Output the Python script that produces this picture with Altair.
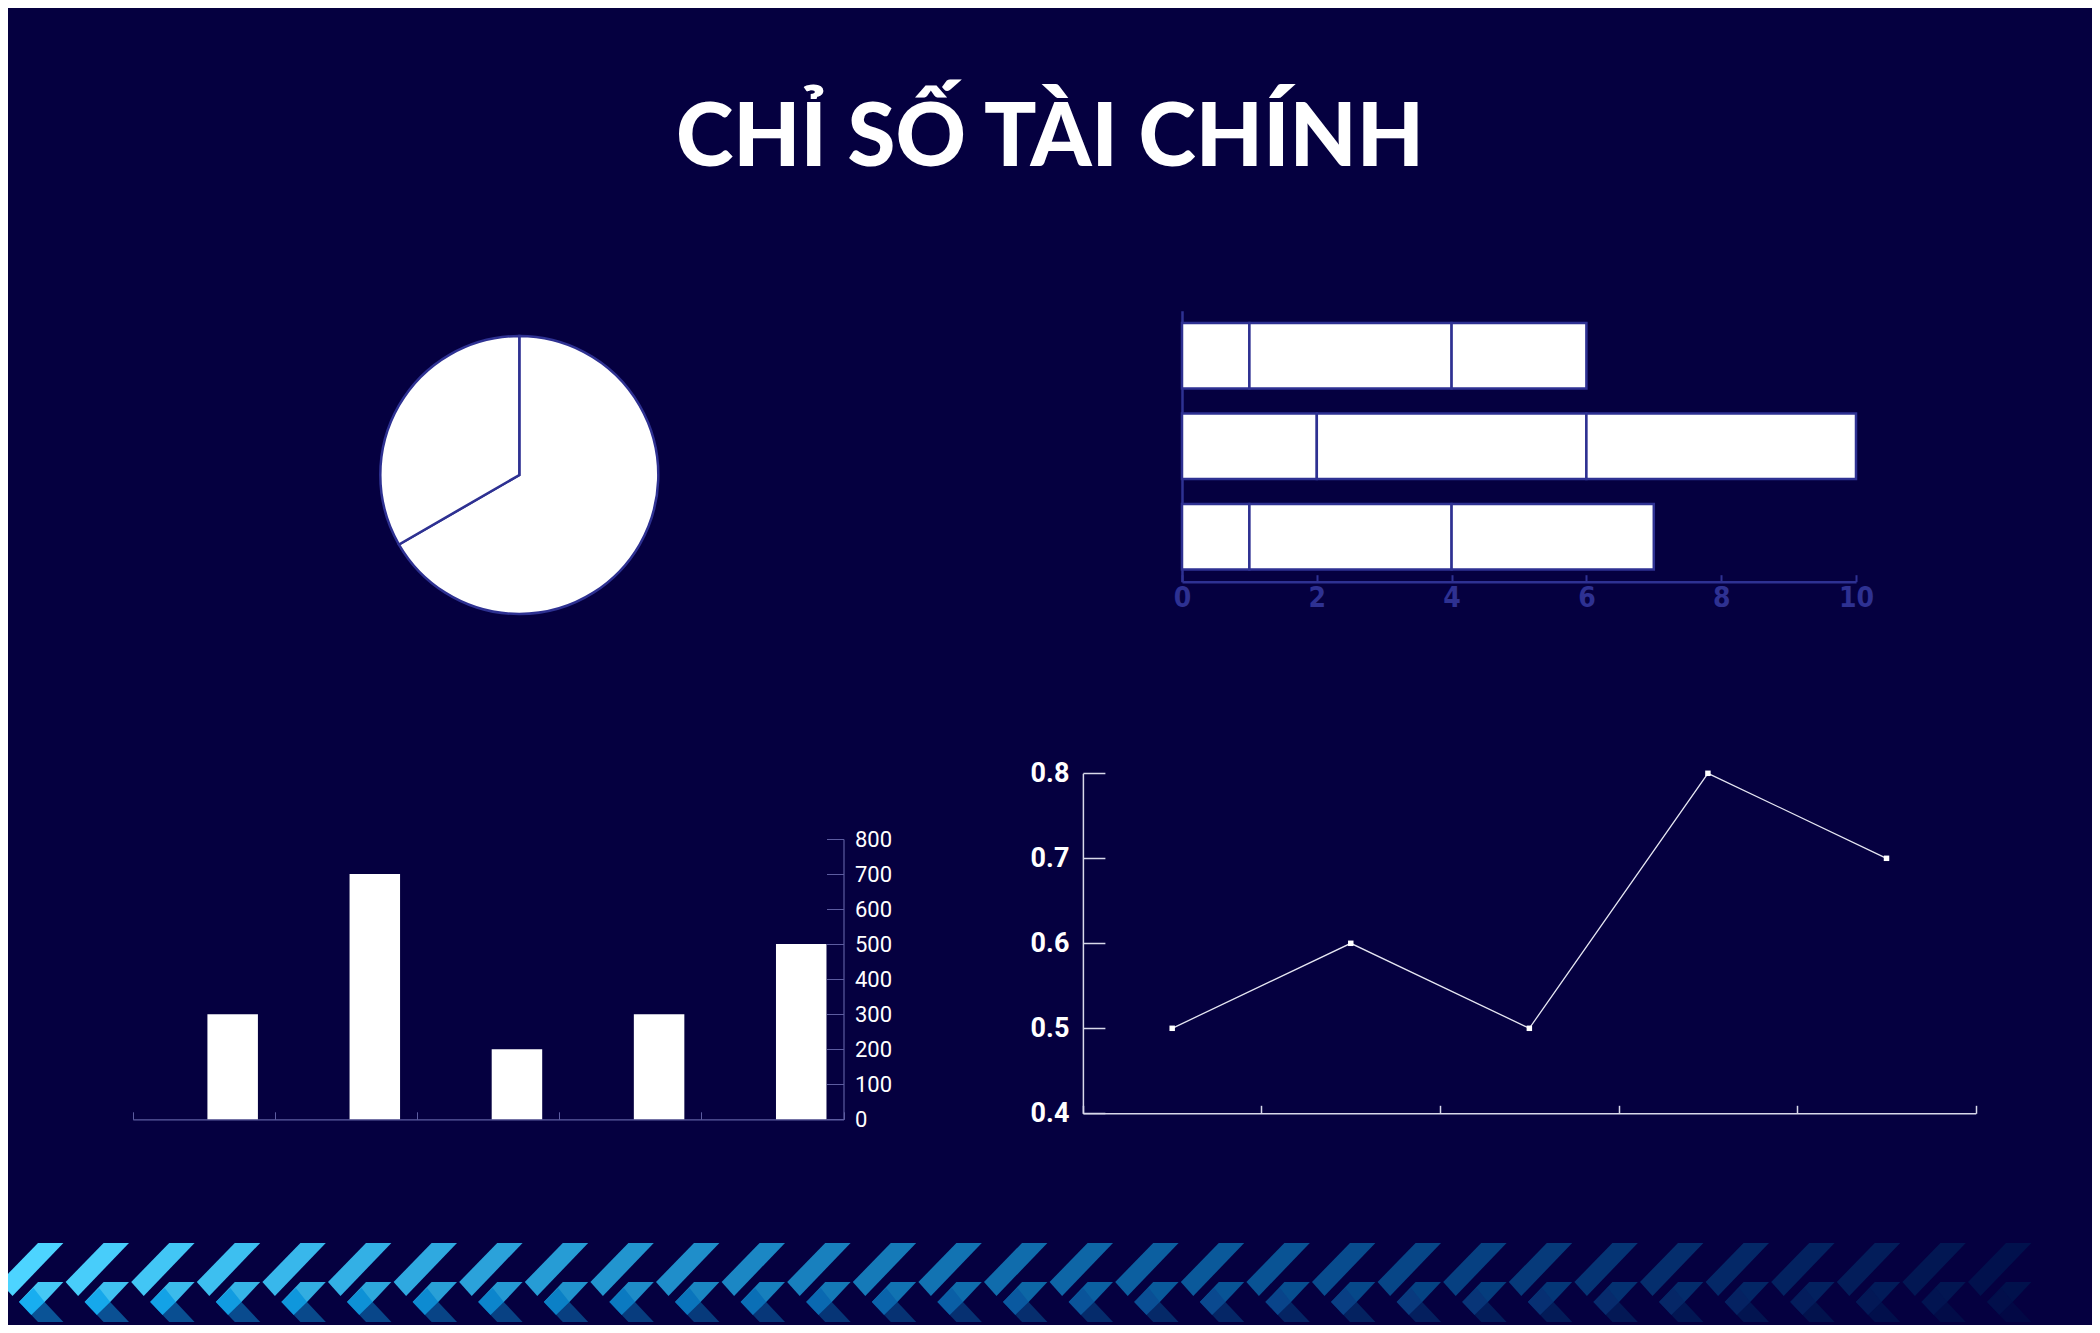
import altair as alt
import pandas as pd

BG = "#050040"
BLUE = "#2e3192"
AXIS_PURPLE = "#5c5ca0"
AXIS_LIGHT = "#d8d8ea"

# ---------------- data ----------------
title_text = "CHỈ SỐ TÀI CHÍNH"

pie_keys = [1, 2]
pie_values = [2, 1]

hbar_rows = ["r1", "r1", "r1", "r2", "r2", "r2", "r3", "r3", "r3"]
hbar_segments = [1, 2, 3, 1, 2, 3, 1, 2, 3]
hbar_values = [1, 3, 2, 2, 4, 4, 1, 3, 3]
hbar_ticks = [0, 2, 4, 6, 8, 10]

vbar_categories = ["1", "2", "3", "4", "5"]
vbar_values = [300, 700, 200, 300, 500]
vbar_ticks = [0, 100, 200, 300, 400, 500, 600, 700, 800]

line_categories = ["1", "2", "3", "4", "5"]
line_values = [0.5, 0.6, 0.5, 0.8, 0.7]
line_ticks = [0.4, 0.5, 0.6, 0.7, 0.8]

chevron_index = list(range(31))

# ---------------- layout (plot coordinates) ----------------
W, H, PAD_TOP = 2084, 1117, 200

pie_df = pd.DataFrame({"k": pie_keys, "value": pie_values})
hbar_df = pd.DataFrame({"row": hbar_rows, "seg": hbar_segments, "value": hbar_values})
vbar_df = pd.DataFrame({"cat": vbar_categories, "value": vbar_values})
line_df = pd.DataFrame({"cat": line_categories, "value": line_values})
chev_df = pd.DataFrame({"i": chevron_index})

# pie
pie = alt.Chart(pie_df).mark_arc(
    radius=139, fill="white", stroke=BLUE, strokeWidth=2.5
).encode(
    theta=alt.Theta("value:Q", stack=True),
    order=alt.Order("k:Q"),
    x=alt.value(511.3),
    y=alt.value(267),
)

# horizontal stacked bars
hx_scale = alt.Scale(domain=[0, 10], range=[1174, 1848], nice=False, zero=True)
hy_scale = alt.Scale(range=[102.7, 373.7], paddingInner=0.276, paddingOuter=0.135)

hbar = alt.Chart(hbar_df).mark_bar(
    fill="white", stroke=BLUE, strokeWidth=2.5
).encode(
    x=alt.X("value:Q", stack="zero", scale=hx_scale,
            axis=alt.Axis(orient="top", offset=-373.7, values=hbar_ticks, labels=False,
                          tickSize=7, tickWidth=2, tickColor=BLUE, domainColor=BLUE,
                          domainWidth=2.5, grid=False, title=None)),
    y=alt.Y("row:N", scale=hy_scale,
            axis=alt.Axis(orient="left", offset=-1174, labels=False, ticks=False,
                          domainColor=BLUE, domainWidth=2.5, grid=False, title=None)),
    order=alt.Order("seg:Q"),
    detail="seg:N",
)

hbar_labels = alt.Chart(hbar_df).mark_bar(opacity=0).encode(
    x=alt.X("value:Q", stack="zero", scale=hx_scale,
            axis=alt.Axis(orient="bottom", offset=-743.3, values=hbar_ticks, domain=False,
                          ticks=False, tickSize=0, labelPadding=3, labelColor=BLUE,
                          labelFlush=False,
                          labelFont="Liberation Sans Narrow, DejaVu Sans Condensed, Roboto",
                          labelFontWeight="bold", labelFontSize=28, grid=False, title=None)),
    y=alt.Y("row:N", scale=hy_scale, axis=None),
    order=alt.Order("seg:Q"),
    detail="seg:N",
)

# vertical bars
vx_scale = alt.Scale(range=[124.8, 835.5], paddingInner=0, paddingOuter=0)
vy_scale = alt.Scale(domain=[0, 800], range=[911.3, 631], nice=False)

vbar = alt.Chart(vbar_df).mark_bar(fill="white", size=50.5, xOffset=28.8).encode(
    x=alt.X("cat:N", scale=vx_scale,
            axis=alt.Axis(orient="top", offset=-911.3, labels=False, tickBand="extent",
                          tickSize=7.5, tickColor=AXIS_PURPLE, domainColor=AXIS_PURPLE,
                          tickWidth=1, domainWidth=1.2, grid=False, title=None)),
    y=alt.Y("value:Q", scale=vy_scale,
            axis=alt.Axis(orient="left", offset=-835.5, labels=False, values=vbar_ticks,
                          tickSize=17, tickColor=AXIS_PURPLE, domainColor=AXIS_PURPLE,
                          tickWidth=1, domainWidth=1.2, grid=False, title=None)),
)

vbar_labels = alt.Chart(vbar_df).mark_bar(opacity=0, size=50.5, xOffset=28.8).encode(
    x=alt.X("cat:N", scale=vx_scale, axis=None),
    y=alt.Y("value:Q", scale=vy_scale,
            axis=alt.Axis(orient="right", offset=-1248.5, values=vbar_ticks, domain=False,
                          ticks=False, tickSize=0, labelPadding=11, labelColor="white",
                          labelFont="Roboto", labelFontSize=22, grid=False, title=None)),
)

# line chart
lx_scale = alt.Scale(type="band", range=[1074.9, 1967.8], paddingInner=0, paddingOuter=0)
ly_scale = alt.Scale(domain=[0.4, 0.8], range=[905.3, 565.3], nice=False, zero=False)

line = alt.Chart(line_df).mark_line(color="#e6e6f2", strokeWidth=1.3).encode(
    x=alt.X("cat:N", scale=lx_scale,
            axis=alt.Axis(orient="top", offset=-905.3, labels=False, tickBand="extent",
                          tickSize=8, tickColor=AXIS_LIGHT, domainColor=AXIS_LIGHT,
                          tickWidth=1.5, domainWidth=1.5, grid=False, title=None)),
    y=alt.Y("value:Q", scale=ly_scale,
            axis=alt.Axis(orient="right", offset=-1009.1, labels=False, values=line_ticks,
                          tickSize=22, tickColor=AXIS_LIGHT, domainColor=AXIS_LIGHT,
                          tickWidth=1.5, domainWidth=1.5, grid=False, title=None)),
)

points = alt.Chart(line_df).mark_square(size=30, color="white", opacity=1).encode(
    x=alt.X("cat:N", scale=lx_scale, axis=None),
    y=alt.Y("value:Q", scale=ly_scale,
            axis=alt.Axis(orient="left", offset=-1074.9, values=line_ticks, domain=False,
                          ticks=False, tickSize=0, labelPadding=14, labelColor="white",
                          labelFont="Roboto", labelFontWeight="bold", labelFontSize=27,
                          format=".1f", grid=False, title=None)),
)

# decorative chevron band
shapes = [
    ("M 0.1575 -0.975 L 0.7925 -0.975 L -0.48 0.35 L -0.7925 0 Z", "#4dd4ff"),
    ("M 0.1575 0 L 0.7925 0 L 0.3225 0.5 L -0.3175 0.5 Z", "#45c8f5"),
    ("M -0.3175 0.5 L 0.3225 0.5 L 0.7925 1 L 0.1575 1 Z", "#0a5396"),
    ("M -0.3175 0.5 L 0.045 0.15 L 0.3225 0.5 L -0.01 0.825 Z", "#18aef0"),
]
chev_layers = []
for path, col in shapes:
    chev_layers.append(
        alt.Chart(chev_df).mark_point(shape=path, size=6400, filled=True, opacity=1,
                                      strokeWidth=0).encode(
            x=alt.X("i:Q", scale=alt.Scale(domain=[0, 30], range=[23.7, 1991.7],
                                           nice=False, zero=False), axis=None),
            y=alt.value(1074),
            color=alt.Color("i:Q", scale=alt.Scale(domain=[0, 32], range=[col, BG]),
                            legend=None),
        )
    )

chart = alt.layer(
    pie, hbar, hbar_labels, vbar, vbar_labels, line, points, *chev_layers
).resolve_scale(
    x="independent", y="independent", color="independent"
).resolve_axis(
    x="independent", y="independent"
).properties(
    width=W,
    height=H,
    padding={"left": 0, "top": PAD_TOP, "right": 0, "bottom": 0},
    autosize=alt.AutoSizeParams(type="none"),
    background=BG,
    usermeta={"embedOptions": {"defaultStyle": "html, body { background: #050040; }"}},
    title=alt.TitleParams(text=title_text, fontSize=87, font="Lato", fontWeight=900,
                          color="white", anchor="middle", frame="group", offset=24),
).configure_view(strokeWidth=0)

chart.save("out.html", embed_options={"renderer": "svg", "actions": False})
